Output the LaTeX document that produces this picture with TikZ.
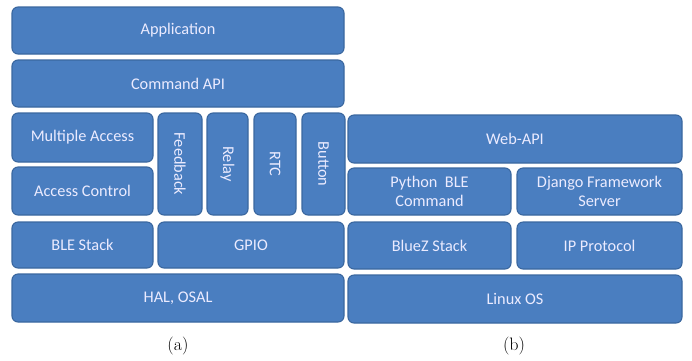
\documentclass[tikz,border=0pt]{standalone}
\usepackage{fontspec}
\newfontfamily\boxfont{Carlito}
\definecolor{layerfill}{HTML}{4A7EC0}
\definecolor{layerdraw}{HTML}{3A679F}
\begin{document}
\begin{tikzpicture}[x=1pt,y=-1pt,
  layer/.style={draw=layerdraw,line width=1.1pt,fill=layerfill,rounded corners=6pt,
    text=white!92!blue,font=\boxfont\fontsize{16.3}{19.5}\selectfont,align=center},
  vlabel/.style={rotate=-90,text=white!92!blue,font=\boxfont\fontsize{16.3}{19.5}\selectfont},
  subcaption/.style={font=\fontsize{18}{20}\selectfont}]
\useasboundingbox (0,0) rectangle (692,360);
% (a) device stack
\node[layer] (app) at (178,30.5) [minimum width=332,minimum height=47] {Application};
\node[layer] (cmd) at (178,83.5) [minimum width=332,minimum height=47] {Command API};
\node[layer] (ma) at (82.5,137.5) [minimum width=141,minimum height=49] {Multiple Access};
\node[layer] (ac) at (82.5,191) [minimum width=141,minimum height=48] {Access Control};
\node[layer] (fb) at (180,164) [minimum width=44,minimum height=102] {};
\node[vlabel] (fbt) at (fb.center) {Feedback};
\node[layer] (rl) at (227.5,164) [minimum width=41,minimum height=102] {};
\node[vlabel] (rlt) at (rl.center) {Relay};
\node[layer] (rtc) at (275,164) [minimum width=42,minimum height=102] {};
\node[vlabel] (rtct) at (rtc.center) {RTC};
\node[layer] (btn) at (323.5,164) [minimum width=43,minimum height=102] {};
\node[vlabel] (btnt) at (btn.center) {Button};
\node[layer] (ble) at (82.5,245) [minimum width=141,minimum height=46] {BLE Stack};
\node[layer] (gpio) at (251,245) [minimum width=186,minimum height=46] {GPIO};
\node[layer] (hal) at (178,298) [minimum width=332,minimum height=48] {HAL, OSAL};
\node[subcaption] (capa) at (178,346) {(a)};
% (b) gateway stack
\node[layer] (web) at (515,139) [minimum width=334,minimum height=48] {Web-API};
\node[layer] (py) at (429.5,191.5) [minimum width=163,minimum height=47] {Python\ \ BLE\\Command};
\node[layer] (dj) at (599.5,191.5) [minimum width=165,minimum height=47] {Django Framework\\Server};
\node[layer] (bz) at (429.5,245.5) [minimum width=163,minimum height=47] {BlueZ Stack};
\node[layer] (ip) at (599.5,245.5) [minimum width=165,minimum height=47] {IP Protocol};
\node[layer] (linux) at (515,299) [minimum width=334,minimum height=48] {Linux OS};
\node[subcaption] (capb) at (514,346) {(b)};
\end{tikzpicture}
\end{document}
